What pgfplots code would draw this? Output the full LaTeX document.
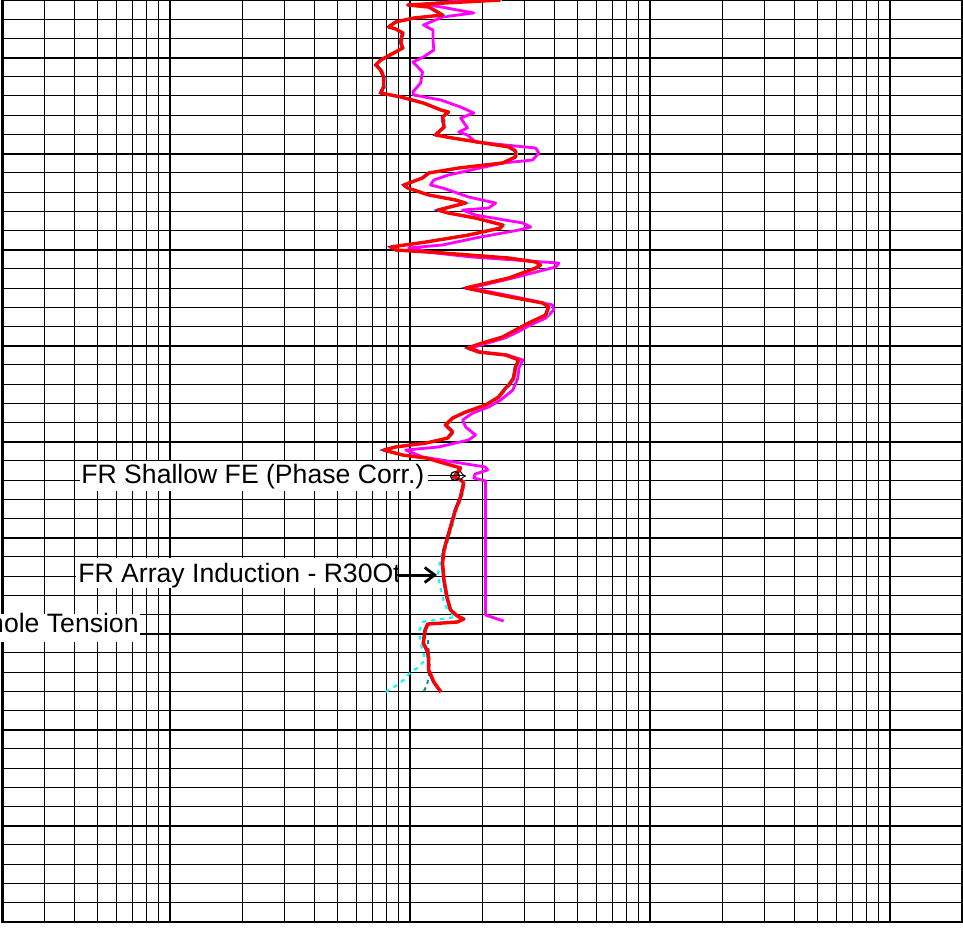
\documentclass[border=0pt]{standalone}
\usepackage{fontspec}
\setmainfont{Liberation Sans}
\usepackage{pgfplots}
\pgfplotsset{compat=1.18}
\usepackage{pgfplotstable}
\usetikzlibrary{arrows.meta}
\definecolor{logred}{RGB}{255,0,0}
\definecolor{logmag}{RGB}{255,0,255}
\definecolor{logcyan}{RGB}{0,255,255}
\definecolor{logteal}{RGB}{0,150,130}
\definecolor{logblue}{RGB}{0,0,255}

% FR Array Induction (red) -- resistivity r, depth d
\pgfplotstableread{
r d
23.9 4994.00
9.81 4994.52
12.0 4994.73
13.7 4995.56
10.4 4995.88
8.74 4996.29
8.17 4996.81
8.74 4997.02
9.35 4997.44
9.17 4998.38
9.35 4999.00
8.58 4999.52
7.57 5000.25
7.22 5000.77
7.57 5001.29
7.79 5002.02
7.79 5003.06
7.57 5003.69
9.17 5004.10
11.4 5004.73
13.5 5005.46
14.5 5005.67
13.7 5006.19
13.9 5007.23
12.8 5008.06
15.1 5008.38
25.9 5009.31
27.6 5009.73
27.6 5010.35
24.4 5010.98
16.0 5011.50
12.0 5012.02
11.3 5012.54
9.44 5013.27
9.81 5013.58
12.0 5014.31
15.5 5014.83
17.1 5015.15
13.1 5015.88
14.5 5016.19
18.8 5016.71
24.4 5017.44
23.9 5017.75
17.6 5018.48
11.7 5019.21
8.33 5019.73
8.74 5020.04
13.7 5020.35
25.9 5020.88
33.5 5021.29
35.1 5021.60
33.5 5021.92
25.9 5022.96
17.1 5024.00
18.8 5024.21
27.6 5025.04
35.8 5025.56
37.9 5025.98
36.9 5026.81
31.3 5027.65
27.6 5028.38
24.4 5029.10
20.1 5029.73
17.4 5030.25
19.4 5030.67
25.1 5030.98
28.5 5031.50
27.6 5032.23
27.1 5033.38
25.9 5034.10
25.1 5034.42
23.5 5035.35
20.7 5036.19
17.1 5036.92
15.1 5037.54
14.1 5038.27
15.1 5039.00
14.4 5039.63
11.7 5040.15
8.74 5040.56
7.79 5040.88
9.35 5041.40
11.7 5041.71
16.3 5042.75
15.3 5043.69
16.3 5044.00
16.8 5044.31
16.3 5045.77
15.5 5047.13
14.8 5048.90
14.4 5049.94
13.9 5051.29
13.7 5052.65
13.9 5054.42
14.3 5056.19
14.8 5057.54
15.8 5058.17
16.8 5058.48
15.8 5058.79
11.9 5059.00
11.6 5059.63
11.4 5060.98
11.9 5061.92
12.0 5062.75
12.0 5063.79
12.6 5065.04
13.5 5066.08
}\tabred

% FR Shallow FE (magenta)
\pgfplotstableread{
r d
18.0 4994.00
11.4 4994.42
13.5 4994.73
18.5 4995.35
13.7 4995.77
11.4 4996.60
12.5 4997.13
12.5 4998.17
12.6 4999.21
11.4 4999.94
10.3 5000.46
10.8 5000.98
11.3 5001.50
11.1 5002.65
10.3 5003.58
10.4 5003.90
13.5 5004.42
16.3 5005.15
18.5 5005.77
16.3 5006.29
17.4 5007.33
16.0 5007.75
17.4 5008.06
18.8 5008.79
33.5 5009.42
34.5 5009.94
32.5 5010.67
24.4 5010.98
14.5 5012.23
12.6 5012.75
12.2 5013.27
13.7 5013.58
17.6 5014.52
22.8 5015.15
21.3 5015.67
16.6 5015.88
18.8 5016.40
29.6 5017.23
31.9 5017.65
28.5 5017.96
18.8 5018.79
13.7 5019.52
9.9 5019.83
12.8 5020.35
18.0 5020.77
41.8 5021.40
40.6 5021.81
26.9 5022.96
18.0 5024.00
19.8 5024.21
29.0 5025.04
39.4 5025.77
39.8 5026.29
36.9 5027.13
31.9 5027.85
28.2 5028.58
24.9 5029.21
20.5 5029.83
18.0 5030.25
19.8 5030.67
25.6 5030.98
29.6 5031.50
28.5 5032.33
28.2 5033.38
26.9 5034.63
23.9 5035.67
21.3 5036.40
18.3 5037.02
16.6 5037.75
17.1 5038.48
18.8 5039.31
17.6 5039.83
13.2 5040.56
9.62 5040.88
11.3 5041.60
20.7 5042.65
21.1 5042.96
18.7 5043.38
18.5 5043.79
20.7 5044.10
20.7 5058.06
24.6 5058.69
}\tabmag

% cyan dashed, lower part where it leaves the red one
\pgfplotstableread{
r d
13.7 5051.60
13.5 5052.02
13.1 5053.90
13.5 5055.46
13.9 5056.81
14.4 5057.54
15.5 5058.27
11.3 5058.79
11.0 5059.63
11.1 5060.98
11.6 5062.75
10.9 5063.48
10.1 5064.00
9.44 5064.83
8.74 5065.46
7.94 5066.08
}\tabcyan

\pgfplotstableread{
r d
11.9 5060.67
12.1 5063.27
12.0 5064.42
11.8 5065.35
11.4 5066.08
}\tabteal

\begin{document}
\begin{tikzpicture}
\begin{axis}[
    scale only axis,
    width=480pt, height=460.8pt,
    xmode=log, xmin=0.2, xmax=2000,
    ymin=4994, ymax=5090, y dir=reverse,
    xtick={1,10,100,1000},
    minor xtick={0.3,0.4,0.5,0.6,0.7,0.8,0.9,2,3,4,5,6,7,8,9,20,30,40,50,60,70,80,90,200,300,400,500,600,700,800,900},
    ytick={5000,5010,...,5090},
    minor ytick={4994,4996,...,5090},
    extra y ticks={5000,5050},
    extra y tick labels={},
    extra y tick style={grid style={black, line width=1.5pt}},
    xticklabels={}, yticklabels={},
    major tick length=0pt, minor tick length=0pt,
    grid=both,
    major grid style={black, line width=1pt},
    minor grid style={black, line width=0.5pt},
    axis line style={black, line width=1pt},
]
    \addplot[logmag, line width=1.4pt, line join=round] table[x=r, y=d]{\tabmag};
    \addplot[logcyan, line width=1pt, dash pattern=on 2pt off 2pt, xshift=0.8pt,
        restrict y to domain=4994:5052] table[x=r, y=d]{\tabred};
    \addplot[logcyan, line width=1.1pt, dash pattern=on 2pt off 2.5pt] table[x=r, y=d]{\tabcyan};
    \addplot[logteal, line width=1pt, dash pattern=on 2pt off 2pt] table[x=r, y=d]{\tabteal};
    \addplot[logblue, line width=1pt, xshift=-0.4pt] table[x=r, y=d]{\tabred};
    \addplot[logred, line width=1.7pt, line join=round] table[x=r, y=d]{\tabred};

    % heavy track edge on the left
    \draw[black, line width=2pt] (axis cs:0.2,4994) -- (axis cs:0.2,5090);
    \coordinate (O) at (axis cs:0.2,4994);
\end{axis}

% curve labels, placed in pixel units from the top left corner
\begin{scope}[shift={(O)}, xshift=-1pt, x=0.5pt, y=-0.5pt,
    font=\fontsize{13.3}{16}\selectfont]
    \fill[white] (80,461) rectangle (428,491);
    \node[anchor=base west, inner sep=0pt] at (81,484) {FR Shallow FE (Phase Corr.)};
    \draw[line width=0.5pt, -{To[length=3pt, width=5pt]}] (428,476) -- (466,476);
    \draw[line width=0.6pt] (455,476) circle[radius=2.2pt];

    \fill[white] (76,558) rectangle (398,588);
    \begin{scope}
        \clip (76,558) rectangle (398,588);
        \node[anchor=base west, inner sep=0pt] at (78,583) {FR Array Induction - R30Ot};
    \end{scope}
    \draw[line width=0.6pt, -{Straight Barb[length=5pt, width=7.5pt, line width=1.4pt]}]
        (395,575) -- (437,575);

    % this label runs past the left edge, as in the source log
    \fill[white] (-10,614) rectangle (140,642);
    \node[anchor=base east, inner sep=0pt] at (139,633) {Downhole Tension};
\end{scope}

\pgfresetboundingbox
\path[use as bounding box] ([xshift=-1pt]O) rectangle ([xshift=480.5pt, yshift=-465pt]O);
\end{tikzpicture}
\end{document}
